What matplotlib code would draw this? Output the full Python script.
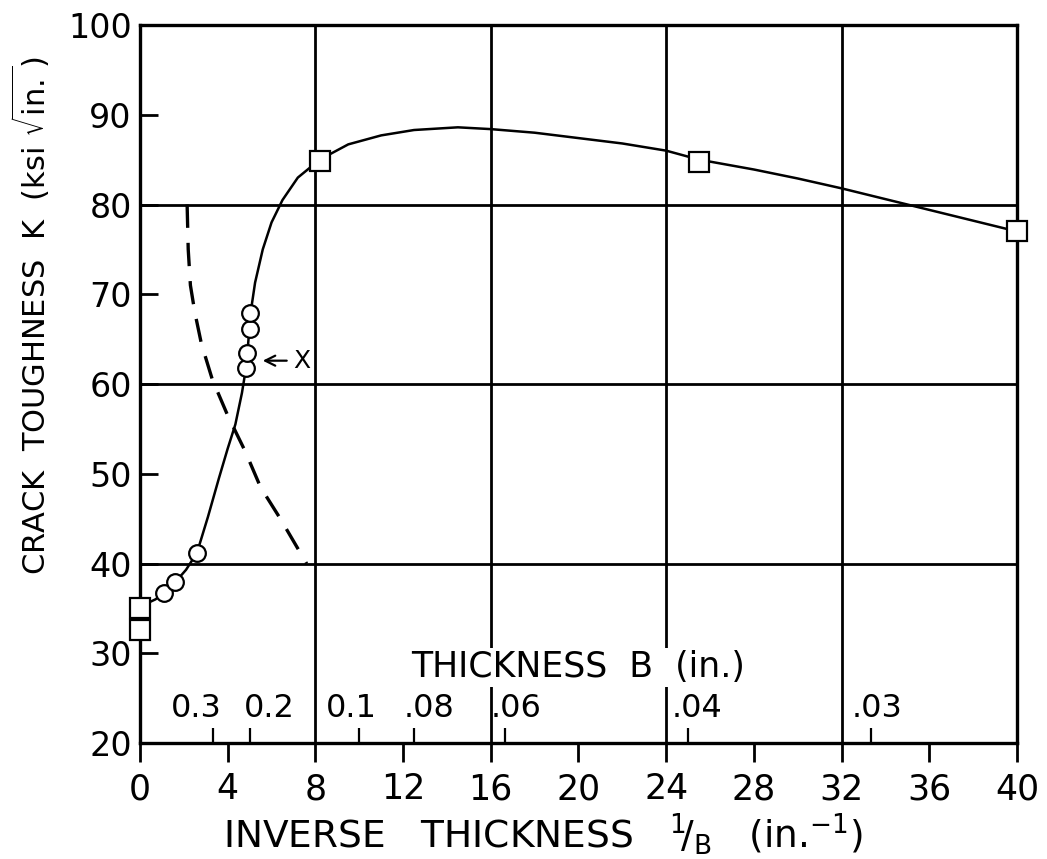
import numpy as np
import matplotlib
matplotlib.use("Agg")
import matplotlib.pyplot as plt
from matplotlib.transforms import ScaledTranslation

# Точки
sq_x = [0.0, 0.0, 8.2, 25.5, 40.0]
sq_y = [32.6, 35.0, 84.9, 84.7, 77.0]

circ_x = [1.1, 1.6, 2.6, 4.85, 4.9, 5.0, 5.0]
circ_y = [36.7, 37.9, 41.2, 61.8, 63.5, 66.1, 67.9]

# Суцільна крива (від руки)
curve_x = [0.35, 0.7, 1.1, 1.6, 2.1, 2.6, 3.1, 3.6, 4.0, 4.35, 4.65, 4.85, 4.95, 5.05,
           5.25, 5.6, 6.0, 6.5, 7.2, 8.2, 9.5, 11.0, 12.5, 14.5, 16.0, 18.0, 20.0,
           22.0, 24.0, 25.5, 28.0, 30.0, 32.0, 34.0, 36.0, 38.0, 40.0]
curve_y = [35.6, 36.0, 36.7, 37.9, 39.3, 41.2, 45.2, 49.5, 52.8, 55.5, 59.0, 62.0, 65.0, 68.0,
           71.3, 75.0, 78.0, 80.5, 83.0, 85.0, 86.7, 87.7, 88.3, 88.6, 88.4, 88.0, 87.4,
           86.8, 86.0, 85.0, 83.9, 82.9, 81.8, 80.6, 79.4, 78.2, 77.0]

# Штрихова крива
dash_x = [2.15, 2.2, 2.3, 2.5, 2.8, 3.3, 4.0, 4.8, 5.5, 6.4, 7.0, 7.6]
dash_y = [80.0, 75.0, 71.0, 68.0, 64.5, 60.5, 56.5, 52.5, 48.5, 45.0, 42.5, 40.0]

x_ticks = [0, 4, 8, 12, 16, 20, 24, 28, 32, 36, 40]
y_ticks = [20, 30, 40, 50, 60, 70, 80, 90, 100]
grid_x = [8, 16, 24, 32]
grid_y = [40, 60, 80]

thick_vals = [0.3, 0.2, 0.1, 0.08, 0.06, 0.04, 0.03]
thick_labels = ["0.3", "0.2", "0.1", ".08", ".06", ".04", ".03"]
# зсув підписів товщини вліво/вправо від рисок, пікселі
thick_shift = [-17, 20, -8, 15, 11, 9, 6]

plt.rcParams["font.family"] = ["DejaVu Sans"]

fig = plt.figure(figsize=(10.47, 8.59), dpi=100)
ax = fig.add_axes([0.1337, 0.135, 0.8376, 0.8359])

ax.set_xlim(0, 40)
ax.set_ylim(20, 100)

for gx in grid_x:
    ax.axvline(gx, color="black", lw=2.0, zorder=1)
for gy in grid_y:
    ax.axhline(gy, color="black", lw=2.0, zorder=1)

ax.plot(curve_x, curve_y, color="black", lw=1.8, zorder=2)
ax.plot(dash_x, dash_y, color="black", lw=2.4, dashes=(7, 4.5), zorder=2)

ax.plot(sq_x, sq_y, linestyle="none", marker="s", markersize=15,
        markerfacecolor="white", markeredgecolor="black", markeredgewidth=1.6,
        zorder=4, clip_on=False)
ax.plot(circ_x, circ_y, linestyle="none", marker="o", markersize=12,
        markerfacecolor="white", markeredgecolor="black", markeredgewidth=1.6,
        zorder=4, clip_on=False)

ax.annotate("X", xy=(5.6, 62.6), xytext=(7.4, 62.6), fontsize=18,
            ha="center", va="center",
            arrowprops=dict(arrowstyle="->", color="black", lw=1.6,
                            shrinkA=3, shrinkB=0))

for s in ax.spines.values():
    s.set_linewidth(2.4)

ax.set_xticks(x_ticks)
ax.set_yticks(y_ticks)
ax.tick_params(axis="x", direction="out", length=14, width=2.0,
               labelsize=25, pad=7)
ax.tick_params(axis="y", direction="in", length=13, width=2.0,
               labelsize=24, pad=6)

ax.set_xlabel(r"INVERSE   THICKNESS   $^{\mathrm{1}}\!/_{\mathrm{B}}$   (in.$^{-1}$)",
              fontsize=27, labelpad=4, x=0.46)
ax.set_ylabel(r"CRACK  TOUGHNESS  K  (ksi $\sqrt{\mathrm{in.}}$)", fontsize=22)
ax.yaxis.set_label_coords(-0.10, 0.595)

# Шкала товщини B, розміщена на нижній осі
ax2 = ax.twiny()
ax2.set_xlim(0, 40)
ax2.spines["top"].set_position(("axes", 0))
for name in ["bottom", "left", "right", "top"]:
    ax2.spines[name].set_visible(False)
ax2.set_xticks([1.0 / b for b in thick_vals])
ax2.set_xticklabels(thick_labels)
ax2.tick_params(axis="x", direction="out", length=11, width=1.6,
                labelsize=23, pad=3)
for lab, dx in zip(ax2.get_xticklabels(), thick_shift):
    lab.set_transform(lab.get_transform() + ScaledTranslation(dx / 100, 0, fig.dpi_scale_trans))
ax2.set_xlabel("THICKNESS  B  (in.)", fontsize=25, labelpad=11,
               bbox=dict(facecolor="white", edgecolor="none", pad=2))
ax2.xaxis.set_label_position("top")

fig.savefig("out.png", dpi=100)
